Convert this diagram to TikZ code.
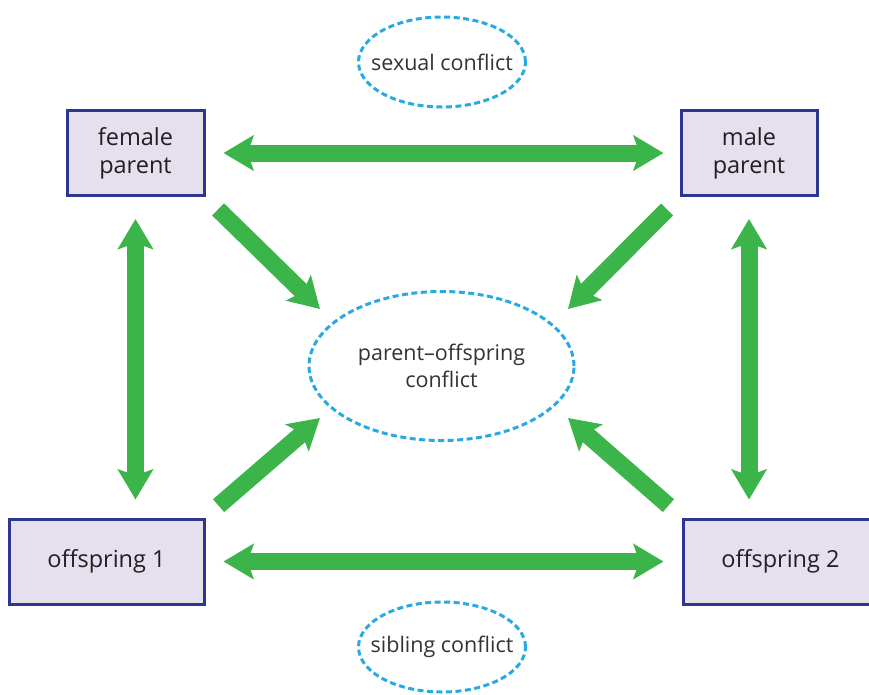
\documentclass[tikz,border=0pt]{standalone}
\usepackage{fontspec}
\setmainfont{Open Sans}
\usetikzlibrary{arrows.meta,shapes.geometric}
\definecolor{arrgreen}{HTML}{3BB54A}
\definecolor{boxfill}{HTML}{E6DFEE}
\definecolor{boxline}{HTML}{2E3790}
\definecolor{dashblue}{HTML}{2AA9E0}
\definecolor{txt}{HTML}{231F20}
\definecolor{ltxt}{HTML}{333333}
\tikzset{
  party/.style={draw=boxline, fill=boxfill, line width=3pt, inner sep=0pt,
    text=txt, align=center, font=\fontsize{23.5}{28}\selectfont},
  conflict/.style={draw=dashblue, ellipse, line width=3pt, dash pattern=on 6pt off 3.5pt,
    inner sep=0pt},
  conflicttext/.style={text=ltxt, align=center, font=\fontsize{21.5}{27}\selectfont},
  bigarrow/.style={draw=arrgreen, line width=17pt,
    -{Stealth[length=30pt, width=35pt, inset=6pt, fill=arrgreen]}},
  bigdarrow/.style={draw=arrgreen, line width=17pt,
    {Stealth[length=30pt, width=35pt, inset=6pt, fill=arrgreen]}-{Stealth[length=30pt, width=35pt, inset=6pt, fill=arrgreen]}},
}
\begin{document}
\begin{tikzpicture}[x=1pt, y=-1pt]
\useasboundingbox (0,0) rectangle (869,694);
% boxes
\node[party, minimum width=137pt, minimum height=85pt] (fp) at (135.5,153) {female\\parent};
\node[party, minimum width=136pt, minimum height=85pt] (mp) at (749,153) {male\\parent};
\node[party, minimum width=195pt, minimum height=85pt] (o1) at (106.5,561.5) {offspring 1};
\node[party, minimum width=195pt, minimum height=85pt] (o2) at (780.5,561.5) {offspring 2};
% conflicts
\node[conflict, minimum width=167pt, minimum height=90pt,
  label={[conflicttext]center:sexual conflict}] (sc) at (442,62) {};
\node[conflict, minimum width=265pt, minimum height=149pt,
  label={[conflicttext]center:parent--offspring\\conflict}] (po) at (441.5,366) {};
\node[conflict, minimum width=167pt, minimum height=90pt,
  label={[conflicttext]center:sibling conflict}] (sib) at (442,647) {};
% arrow end coordinates
\coordinate (fpT) at (320,309);
\coordinate (mpT) at (568,309);
\coordinate (o1T) at (320,418);
\coordinate (o2T) at (568,418);
% horizontal and vertical double arrows
\draw[bigdarrow, shorten <=18pt, shorten >=16pt] (fp.east) -- (mp.west);
\draw[bigdarrow, shorten <=18pt, shorten >=18pt] (o1.east |- o1.center) -- (o2.west |- o2.center);
\draw[bigdarrow, shorten <=22pt, shorten >=18pt] (fp.south) -- (fp.south |- o1.north);
\draw[bigdarrow, shorten <=22pt, shorten >=18pt] (mp.south) -- (mp.south |- o2.north);
% diagonal arrows into parent-offspring conflict
\draw[bigarrow, shorten <=12pt] ([shift={(4,4)}]fp.south east) -- (fpT);
\draw[bigarrow, shorten <=12pt] ([shift={(-4,4)}]mp.south west) -- (mpT);
\draw[bigarrow, shorten <=12pt] ([shift={(4,-4)}]o1.north east) -- (o1T);
\draw[bigarrow, shorten <=12pt] ([shift={(-4,-4)}]o2.north west) -- (o2T);
\end{tikzpicture}
\end{document}
